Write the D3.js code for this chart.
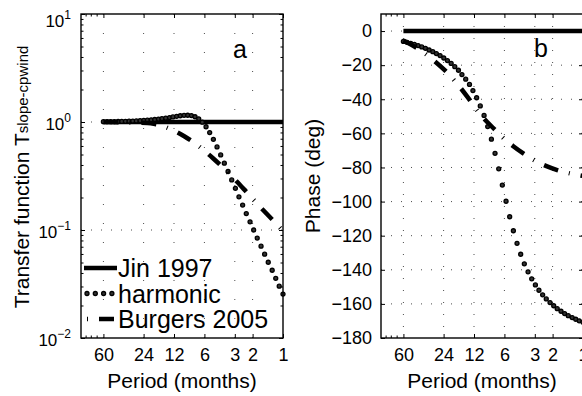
<!DOCTYPE html>
<html><head><meta charset="utf-8">
<script src="https://cdn.jsdelivr.net/npm/d3@7"></script>
<style>
html,body{margin:0;padding:0;background:#fff;}
svg{display:block;font-family:"Liberation Sans",Arial,Helvetica,sans-serif;}
</style></head><body>
<svg id="chart" width="582" height="396"></svg>
<script>
// ---------------- data ----------------
const periodTicks = [60, 24, 12, 6, 3, 2, 1];
const periodMinorTicks = [90, 80, 70];
const ampTicks = [0.01, 0.1, 1, 10];
const ampTickExp = ["\u22122", "\u22121", "0", "1"];
const phaseTicks = [-180, -160, -140, -120, -100, -80, -60, -40, -20, 0];
const seriesNames = ["Jin 1997", "harmonic", "Burgers 2005"];

const jinPeriod = [60, 1];
const jinAmp = [1, 1];
const jinPhase = [0, 0];

const harmonicPeriod = [60, 55.2, 50.8, 46.7, 42.9, 39.5, 36.3, 33.4, 30.7, 28.3,
  26.0, 23.9, 22.0, 20.2, 18.6, 17.1, 15.8, 14.5, 13.3, 12.3,
  11.3, 10.4, 9.54, 8.78, 8.07, 7.43, 6.83, 6.29, 5.78, 5.32,
  4.89, 4.50, 4.14, 3.81, 3.50, 3.22, 2.96, 2.73, 2.51, 2.31,
  2.12, 1.95, 1.80, 1.65, 1.52, 1.40, 1.28, 1.18, 1.09, 1.00];
const harmonicAmp = [1.006, 1.006, 1.008, 1.009, 1.011, 1.013, 1.015, 1.018, 1.021, 1.024,
  1.029, 1.034, 1.040, 1.047, 1.055, 1.064, 1.075, 1.087, 1.100, 1.114,
  1.128, 1.142, 1.152, 1.155, 1.146, 1.119, 1.070, 0.997, 0.904, 0.798,
  0.691, 0.588, 0.496, 0.416, 0.348, 0.291, 0.243, 0.203, 0.170, 0.142,
  0.119, 0.100, 0.0842, 0.0709, 0.0597, 0.0503, 0.0424, 0.0357, 0.0302, 0.0255];
const harmonicPhase = [-6.1, -6.6, -7.2, -7.8, -8.5, -9.3, -10.1, -11.1, -12.1, -13.2,
  -14.4, -15.8, -17.3, -19.0, -20.9, -23.0, -25.5, -28.2, -31.3, -34.9,
  -39.1, -43.9, -49.5, -56.0, -63.4, -71.7, -80.8, -90.3, -99.8, -108.9,
  -117.1, -124.5, -130.9, -136.5, -141.2, -145.3, -148.9, -152.0, -154.7, -157.1,
  -159.2, -161.1, -162.8, -164.3, -165.7, -166.9, -168.0, -169.0, -169.9, -170.8];

const burgersPeriod = [60, 44, 36, 29, 22, 18.5, 16.5, 14, 11.7, 9.5, 7.7, 6.2, 4.9, 3.9, 3.0, 2.3, 1.8, 1.3, 1.0];
const burgersAmp = [1.0, 0.995, 0.991, 0.986, 0.977, 0.957, 0.938, 0.885, 0.822, 0.738, 0.649, 0.556, 0.459, 0.376, 0.294, 0.225, 0.175, 0.127, 0.098];
const burgersPhase = [-5.5, -10.0, -13.5, -18.0, -24.5, -29.5, -33.0, -38.5, -45.0, -51.5, -57.0, -62.5, -67.5, -71.7, -76.0, -79.2, -81.5, -83.7, -85.0];

// ---------------- setup ----------------
const svg = d3.select("#chart");
const FONT_TICK = 18;
const yTop = 14, yBot = 338;
const aL = 81, aR = 283, bL = 381, bR = 583;
const LW = 4.5, DOT_R = 2.0, DOT_SW = 1.3;

const xA = d3.scaleLog().domain([100, 1]).range([aL, aR]);
const yA = d3.scaleLog().domain([0.01, 10]).range([yBot, yTop]);
const xB = d3.scaleLog().domain([100, 1]).range([bL, bR]);
const yB = d3.scaleLinear().domain([-180, 10]).range([yBot, yTop]);

const zip = (p, v) => p.map((d, i) => ({p: d, v: v[i]}));
const burgersDash = "15,11,1,11";

function styleAxis(g, size) {
  g.select(".domain").remove();
  g.selectAll(".tick line").attr("stroke", "#000").attr("stroke-width", 1);
  g.selectAll(".tick text").attr("fill", "#000").attr("font-size", (size || FONT_TICK) + "px")
    .attr("font-family", '"Liberation Sans",Arial,Helvetica,sans-serif');
}

function gridLines(g, xs, ys, xVals, yVals, vDash, hDash) {
  const [x0, x1] = xs.range();
  const [y0, y1] = ys.range();
  g.append("g").selectAll("line").data(xVals).join("line")
    .attr("x1", d => xs(d)).attr("x2", d => xs(d))
    .attr("y1", y1).attr("y2", y0)
    .attr("stroke", "#222").attr("stroke-width", 1).attr("stroke-dasharray", vDash).attr("opacity", 0.8);
  g.append("g").selectAll("line").data(yVals).join("line")
    .attr("x1", x0).attr("x2", x1)
    .attr("y1", d => ys(d)).attr("y2", d => ys(d))
    .attr("stroke", "#222").attr("stroke-width", 1).attr("stroke-dasharray", hDash).attr("opacity", 0.8);
}

function xAxes(g, xs) {
  g.append("g").attr("transform", `translate(0,${yBot})`)
    .call(d3.axisBottom(xs).tickValues(periodTicks).tickSize(-4).tickPadding(10).tickFormat(d => String(d)))
    .call(a => styleAxis(a));
  g.append("g").attr("transform", `translate(0,${yBot})`)
    .call(d3.axisBottom(xs).tickValues(periodMinorTicks).tickSize(-2.5).tickFormat(""))
    .call(a => styleAxis(a));
  g.append("g").attr("transform", `translate(0,${yTop})`)
    .call(d3.axisTop(xs).tickValues(periodTicks).tickSize(-4).tickFormat(""))
    .call(a => styleAxis(a));
  g.append("g").attr("transform", `translate(0,${yTop})`)
    .call(d3.axisTop(xs).tickValues(periodMinorTicks).tickSize(-2.5).tickFormat(""))
    .call(a => styleAxis(a));
}

function frame(g, xs, ys) {
  const [x0, x1] = xs.range();
  const [y0, y1] = ys.range();
  g.append("rect").attr("x", x0).attr("y", y1).attr("width", x1 - x0).attr("height", y0 - y1)
    .attr("fill", "none").attr("stroke", "#000").attr("stroke-width", 1.4);
}

// ---------------- panel a ----------------
const gA = svg.append("g");
gridLines(gA, xA, yA, periodTicks.slice(0, -1), ampTicks.slice(1, -1), "1,18", "1,9");

gA.append("g").attr("transform", `translate(${aL},0)`)
  .call(d3.axisLeft(yA).tickValues(ampTicks).tickSize(-4).tickPadding(10).tickFormat(""))
  .call(a => styleAxis(a, 17))
  .call(a => a.selectAll(".tick text").each(function(d, i) {
    const t = d3.select(this);
    t.attr("dy", "0.45em").attr("y", Math.max(0, 19 - yA(d)));
    t.append("tspan").text("10");
    t.append("tspan").attr("dy", -8).attr("font-size", "12px").text(ampTickExp[i]);
  }));
const minorA = yA.ticks().filter(d => !ampTicks.some(m => Math.abs(m - d) < 1e-9));
gA.append("g").attr("transform", `translate(${aL},0)`)
  .call(d3.axisLeft(yA).tickValues(minorA).tickSize(-2.5).tickFormat("")).call(a => styleAxis(a));
gA.append("g").attr("transform", `translate(${aR},0)`)
  .call(d3.axisRight(yA).tickValues(ampTicks).tickSize(-4).tickFormat("")).call(a => styleAxis(a));
gA.append("g").attr("transform", `translate(${aR},0)`)
  .call(d3.axisRight(yA).tickValues(minorA).tickSize(-2.5).tickFormat("")).call(a => styleAxis(a));
xAxes(gA, xA);

gA.append("path").datum(zip(jinPeriod, jinAmp))
  .attr("d", d3.line().x(d => xA(d.p)).y(d => yA(d.v)))
  .attr("fill", "none").attr("stroke", "#000").attr("stroke-width", LW);
gA.append("g").selectAll("circle").data(zip(harmonicPeriod, harmonicAmp)).join("circle")
  .attr("cx", d => xA(d.p)).attr("cy", d => yA(d.v)).attr("r", DOT_R)
  .attr("fill", "#333").attr("stroke", "#000").attr("stroke-width", DOT_SW);
gA.append("path").datum(zip(burgersPeriod, burgersAmp))
  .attr("d", d3.line().x(d => xA(d.p)).y(d => yA(d.v)).curve(d3.curveMonotoneX))
  .attr("fill", "none").attr("stroke", "#000").attr("stroke-width", LW)
  .attr("stroke-dasharray", burgersDash);
frame(gA, xA, yA);

gA.append("text").attr("x", (aL + aR) / 2 + 58).attr("y", 58).attr("text-anchor", "middle")
  .attr("font-size", "25px").text("a");

const leg = gA.append("g");
seriesNames.forEach((name, i) => {
  const cy = 268 + 25.5 * i;
  const lx0 = 84, lx1 = 117;
  if (i === 0) {
    leg.append("line").attr("x1", lx0).attr("x2", lx1).attr("y1", cy).attr("y2", cy)
      .attr("stroke", "#000").attr("stroke-width", LW);
  } else if (i === 1) {
    leg.append("g").selectAll("circle").data(d3.range(4)).join("circle")
      .attr("cx", k => lx0 + 3 + k * 8.3).attr("cy", cy).attr("r", DOT_R)
      .attr("fill", "#333").attr("stroke", "#000").attr("stroke-width", DOT_SW);
  } else {
    leg.append("line").attr("x1", lx0).attr("x2", lx1).attr("y1", cy).attr("y2", cy)
      .attr("stroke", "#000").attr("stroke-width", LW)
      .attr("stroke-dasharray", burgersDash).attr("stroke-dashoffset", 23);
  }
  leg.append("text").attr("x", 118).attr("y", cy + 9).attr("font-size", "25px").text(name);
});

gA.append("text").attr("transform", `translate(29,${(yTop + yBot) / 2 + 1}) rotate(-90)`)
  .attr("text-anchor", "middle").attr("font-size", "21px")
  .call(t => {
    t.append("tspan").text("Transfer function T");
    t.append("tspan").attr("font-size", "15px").attr("dy", -1).text("slope-cpwind");
  });
gA.append("text").attr("x", (aL + aR) / 2).attr("y", 388).attr("text-anchor", "middle")
  .attr("font-size", "21px").text("Period (months)");

// ---------------- panel b ----------------
const gB = svg.append("g");
gridLines(gB, xB, yB, periodTicks.slice(0, -1), phaseTicks.slice(1), "1,11", "1,9");
gB.append("g").attr("transform", `translate(${bL},0)`)
  .call(d3.axisLeft(yB).tickValues(phaseTicks).tickSize(-4).tickPadding(9)
    .tickFormat(d => d < 0 ? "\u2212" + Math.abs(d) : String(d)))
  .call(a => styleAxis(a));
gB.append("g").attr("transform", `translate(${bR},0)`)
  .call(d3.axisRight(yB).tickValues(phaseTicks).tickSize(-4).tickFormat("")).call(a => styleAxis(a));
xAxes(gB, xB);

gB.append("path").datum(zip(jinPeriod, jinPhase))
  .attr("d", d3.line().x(d => xB(d.p)).y(d => yB(d.v)))
  .attr("fill", "none").attr("stroke", "#000").attr("stroke-width", LW);
gB.append("g").selectAll("circle").data(zip(harmonicPeriod, harmonicPhase)).join("circle")
  .attr("cx", d => xB(d.p)).attr("cy", d => yB(d.v)).attr("r", DOT_R)
  .attr("fill", "#333").attr("stroke", "#000").attr("stroke-width", DOT_SW);
gB.append("path").datum(zip(burgersPeriod, burgersPhase))
  .attr("d", d3.line().x(d => xB(d.p)).y(d => yB(d.v)).curve(d3.curveMonotoneX))
  .attr("fill", "none").attr("stroke", "#000").attr("stroke-width", LW)
  .attr("stroke-dasharray", burgersDash);
frame(gB, xB, yB);

gB.append("text").attr("x", (bL + bR) / 2 + 59).attr("y", 57).attr("text-anchor", "middle")
  .attr("font-size", "25px").text("b");
gB.append("text").attr("transform", `translate(320,${(yTop + yBot) / 2}) rotate(-90)`)
  .attr("text-anchor", "middle").attr("font-size", "21px").text("Phase (deg)");
gB.append("text").attr("x", (bL + bR) / 2).attr("y", 388).attr("text-anchor", "middle")
  .attr("font-size", "21px").text("Period (months)");
</script>
</body></html>
